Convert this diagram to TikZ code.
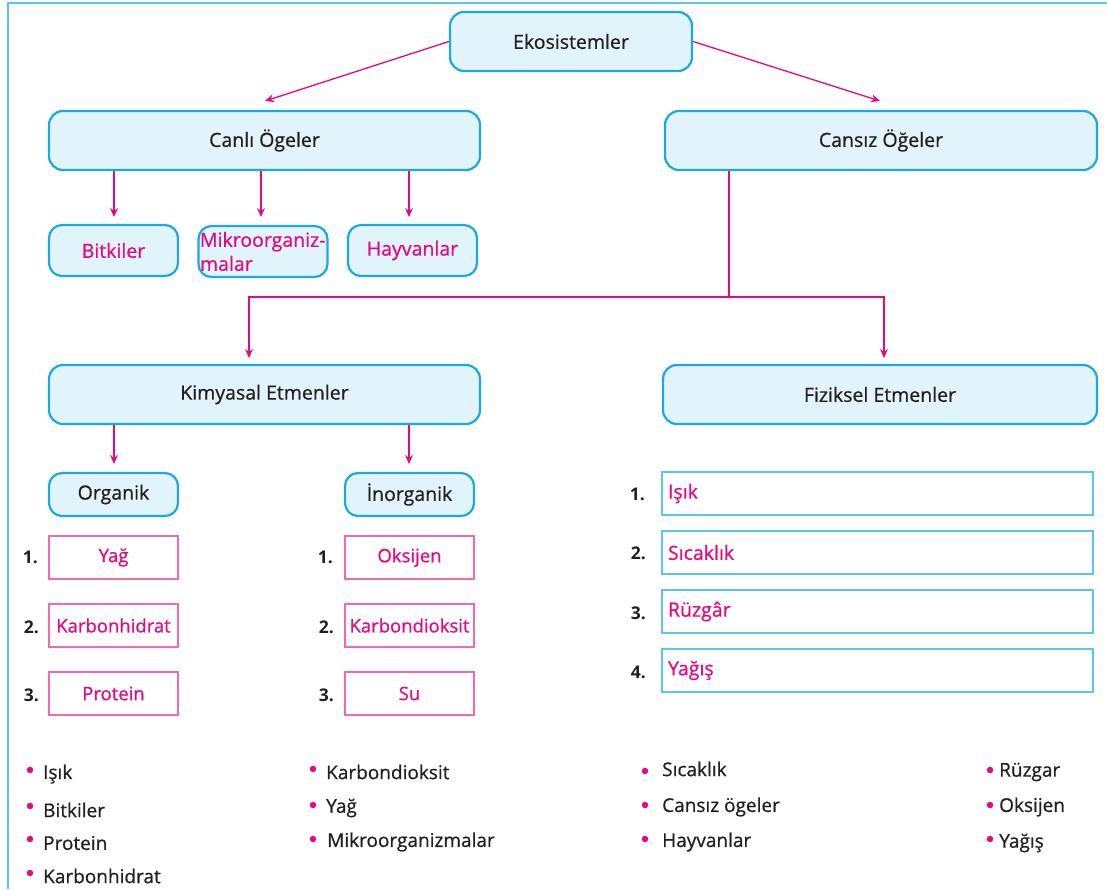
\documentclass[tikz,border=0pt]{standalone}
\usepackage{fontspec}
\setmainfont[FakeBold=0.7, BoldFont={Open Sans Bold}, BoldFeatures={FakeBold=0}]{Open Sans}
\usetikzlibrary{arrows.meta,calc}
\definecolor{cyanb}{HTML}{1BA9E1}
\definecolor{lightb}{HTML}{E1F3FB}
\definecolor{frameb}{HTML}{5BC5F2}
\definecolor{mag}{HTML}{E5097F}
\definecolor{pinkb}{HTML}{F06AAE}
\definecolor{dark}{HTML}{231F20}
\tikzset{
  mainbox/.style={draw=cyanb, fill=lightb, line width=2.2pt, rounded corners=14pt, inner sep=0pt, text=dark, font=\fontsize{19.5}{23}\selectfont},
  smallbox/.style={draw=cyanb, fill=lightb, line width=2.2pt, rounded corners=13pt, inner sep=0pt, text=mag, font=\fontsize{19.5}{23}\selectfont, minimum width=129pt, minimum height=51pt},
  catbox/.style={draw=cyanb, fill=lightb, line width=2.2pt, rounded corners=13pt, inner sep=0pt, text=dark, font=\fontsize{19.5}{23}\selectfont, minimum width=129pt, minimum height=43pt},
  pinkbox/.style={draw=pinkb, line width=1.3pt, inner sep=0pt, text=mag, font=\fontsize{18.5}{22}\selectfont, minimum width=129pt, minimum height=43pt},
  fizbox/.style={draw=frameb, line width=1.3pt, inner xsep=6pt, inner ysep=0pt, text=mag, font=\fontsize{19.5}{23}\selectfont, text width=419pt, align=left, minimum height=43pt},
  num/.style={text=dark, font=\fontsize{17.5}{20}\selectfont\bfseries, inner sep=0pt},
  arr/.style={draw=mag, line width=1.3pt, -{Stealth[length=9pt,width=8pt,inset=3pt]}},
  ln/.style={draw=mag, line width=1.3pt},
  dot/.style={circle, fill=mag, inner sep=0pt, minimum size=6.5pt},
  btxt/.style={anchor=west, text=dark, font=\fontsize{19}{22}\selectfont, inner sep=0pt}
}
\begin{document}
\begin{tikzpicture}[x=1pt,y=-1pt]
\useasboundingbox (0,0) rectangle (1107,889);
% frame
\draw[frameb, line width=2pt] (1107,3) -- (8,3) -- (8,889);
% top level
\node[mainbox, minimum width=242pt, minimum height=59pt] (eko) at (571,41.5) {Ekosistemler};
\node[mainbox, minimum width=431pt, minimum height=59pt] (canli) at (264.5,140.5) {Canlı Ögeler};
\node[mainbox, minimum width=432pt, minimum height=59pt] (cansiz) at (881,140.5) {Cansız Öğeler};
\coordinate (ca) at (265,101);
\coordinate (cb) at (880,101);
\draw[arr] (eko.west) -- (ca);
\draw[arr] (eko.east) -- (cb);
% living
\node[smallbox] (bitki) at (113.5,250.5) {Bitkiler};
\node[smallbox, text width=126pt, align=left, font=\fontsize{19.5}{24}\selectfont] (mikro) at (263,251.5) {Mikroorganiz-\\malar};
\node[smallbox] (hayvan) at (412.5,250.5) {Hayvanlar};
\coordinate (b1) at (114,217);
\coordinate (b2) at (261,217);
\coordinate (b3) at (409,217);
\draw[arr] (canli.south -| b1) -- (b1);
\draw[arr] (canli.south -| b2) -- (b2);
\draw[arr] (canli.south -| b3) -- (b3);
% non-living split
\coordinate (j) at (729,297);
\coordinate (kA) at (249,358);
\coordinate (fA) at (884,358);
\draw[ln] (cansiz.south -| j) -- (j);
\draw[arr] (j) -| (kA);
\draw[arr] (j) -| (fA);
\node[mainbox, minimum width=431pt, minimum height=59pt] (kim) at (264.5,394.5) {Kimyasal Etmenler};
\node[mainbox, minimum width=434pt, minimum height=59pt] (fiz) at (880,394.5) {Fiziksel Etmenler};
% chemical
\node[catbox] (org) at (113.5,494.5) {Organik};
\node[catbox] (inorg) at (409.5,494.5) {İnorganik};
\coordinate (k1) at (114,464);
\coordinate (k2) at (409,464);
\draw[arr] (kim.south -| k1) -- (k1);
\draw[arr] (kim.south -| k2) -- (k2);
% organic list
\node[pinkbox] (o1) at (113.5,557.5) {Yağ};
\node[pinkbox] (o2) at (113.5,625.5) {Karbonhidrat};
\node[pinkbox] (o3) at (113.5,693.5) {Protein};
\node[num, anchor=east] (no1) at (38,557) {1.};
\node[num, anchor=east] (no2) at (39,627) {2.};
\node[num, anchor=east] (no3) at (39,695) {3.};
% inorganic list
\node[pinkbox] (i1) at (409.5,557.5) {Oksijen};
\node[pinkbox] (i2) at (409.5,625.5) {Karbondioksit};
\node[pinkbox] (i3) at (409.5,693.5) {Su};
\node[num, anchor=east] (ni1) at (333,557) {1.};
\node[num, anchor=east] (ni2) at (334,627) {2.};
\node[num, anchor=east] (ni3) at (334,695) {3.};
% physical list
\node[fizbox] (f1) at (877.5,493.5) {Işık};
\node[fizbox] (f2) at (877.5,552.5) {Sıcaklık};
\node[fizbox] (f3) at (877.5,611.5) {Rüzgâr};
\node[fizbox] (f4) at (877.5,670.5) {Yağış};
\node[num, anchor=east] (nf1) at (645,494) {1.};
\node[num, anchor=east] (nf2) at (646,553) {2.};
\node[num, anchor=east] (nf3) at (646,613) {3.};
\node[num, anchor=east] (nf4) at (646,672) {4.};
% bullet lists
\node[dot] (d11) at (30,770) {}; \node[btxt] (t11) at (43,774) {Işık};
\node[dot] (d12) at (30,806) {}; \node[btxt] (t12) at (43,810) {Bitkiler};
\node[dot] (d13) at (30,839) {}; \node[btxt] (t13) at (43,843) {Protein};
\node[dot] (d14) at (30,873) {}; \node[btxt] (t14) at (43,876) {Karbonhidrat};
\node[dot] (d21) at (313,769) {}; \node[btxt] (t21) at (326,772) {Karbondioksit};
\node[dot] (d22) at (313,805) {}; \node[btxt] (t22) at (326,808) {Yağ};
\node[dot] (d23) at (313,839) {}; \node[btxt] (t23) at (327,842) {Mikroorganizmalar};
\node[dot] (d31) at (645,771) {}; \node[btxt] (t31) at (662,769) {Sıcaklık};
\node[dot] (d32) at (645,805) {}; \node[btxt] (t32) at (662,807) {Cansız ögeler};
\node[dot] (d33) at (645,839) {}; \node[btxt] (t33) at (662,842) {Hayvanlar};
\node[dot] (d41) at (990,770) {}; \node[btxt] (t41) at (999,772) {Rüzgar};
\node[dot] (d42) at (990,805) {}; \node[btxt] (t42) at (999,807) {Oksijen};
\node[dot] (d43) at (990,839) {}; \node[btxt] (t43) at (999,843) {Yağış};
\end{tikzpicture}
\end{document}
